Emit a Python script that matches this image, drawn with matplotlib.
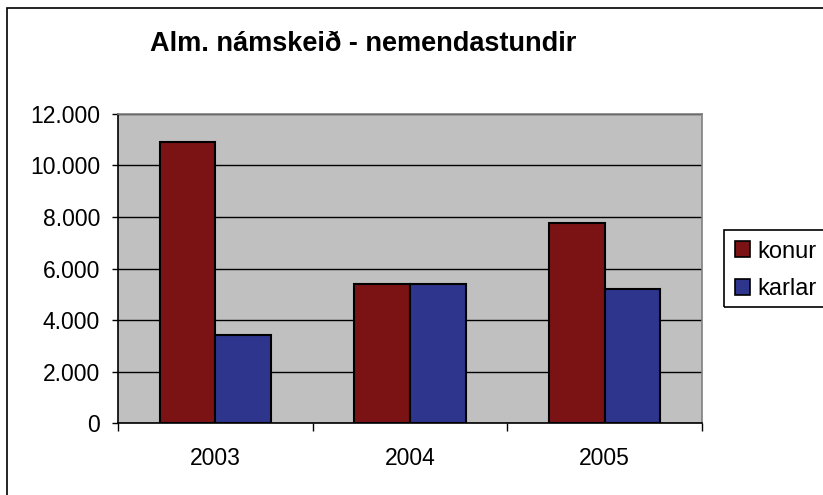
import matplotlib.pyplot as plt
import matplotlib.patches as mpatches
import numpy as np

plt.rcParams['font.family'] = ['Liberation Sans', 'DejaVu Sans']

# data
years = ['2003', '2004', '2005']
konur = [10890, 5410, 7775]
karlar = [3410, 5410, 5195]
series_names = ['konur', 'karlar']
colors = ['#7B1315', '#2E358C']
yticks = [0, 2000, 4000, 6000, 8000, 10000, 12000]

def fmt(v):
    # icelandic thousand separator
    return '{:,}'.format(v).replace(',', '.')

W, H = 823, 495
fig = plt.figure(figsize=(W / 100, H / 100), dpi=100)
ax = fig.add_axes([118 / W, 1 - 423.3 / H, (702 - 118) / W, (423.3 - 113.7) / H])
ax.set_facecolor('#C0C0C0')

x = np.arange(len(years)) + 0.5
w = 1 / 3.5
ax.bar(x - w / 2, konur, w, color=colors[0], edgecolor='black', linewidth=1.5, zorder=3)
ax.bar(x + w / 2, karlar, w, color=colors[1], edgecolor='black', linewidth=1.5, zorder=3)

ax.set_xlim(0, 3)
ax.set_ylim(0, 12000)
ax.set_yticks(yticks)
ax.set_yticklabels([fmt(v) for v in yticks], fontsize=16.5)
ax.set_xticks([0, 1, 2, 3])
ax.set_xticklabels([])
ax.set_xticks(x, minor=True)
ax.set_xticklabels(years, minor=True, fontsize=16.5)
ax.tick_params(axis='x', which='minor', length=0, pad=17)
ax.tick_params(axis='x', which='major', direction='out', length=6, width=1)
ax.tick_params(axis='y', direction='out', length=4, width=1, pad=9)
ax.yaxis.grid(True, color='black', linewidth=1, zorder=1)
ax.set_axisbelow(True)

for s in ['top', 'right']:
    ax.spines[s].set_color('#808080')
    ax.spines[s].set_linewidth(1.2)
for s in ['left', 'bottom']:
    ax.spines[s].set_color('black')
    ax.spines[s].set_linewidth(1.2)

fig.text(363 / W, 1 - 44 / H, 'Alm. námskeið - nemendastundir', ha='center', va='center',
         fontsize=19.5, fontweight='bold')

handles = [mpatches.Patch(facecolor=c, edgecolor='black', linewidth=1.2, label=n)
           for c, n in zip(colors, series_names)]
leg = fig.legend(handles=handles, loc='upper left', bbox_to_anchor=(724 / W, 1 - 230 / H),
                 fontsize=17, frameon=False, handlelength=0.65, handleheight=0.65,
                 handletextpad=0.3, borderpad=0.45, labelspacing=0.66, borderaxespad=0)

# legend frame runs past the right edge in the reference
fig.patches.append(mpatches.Rectangle((724 / W, 1 - 307 / H), 0.2, 77 / H,
                                      transform=fig.transFigure, fill=False,
                                      edgecolor='black', linewidth=1.2))
# outer chart border
fig.patches.append(mpatches.Rectangle((7 / W, -0.05), 1.1, 1 - 8 / H + 0.05,
                                      transform=fig.transFigure, fill=False,
                                      edgecolor='black', linewidth=1.2))

fig.savefig('out.png', dpi=100)
